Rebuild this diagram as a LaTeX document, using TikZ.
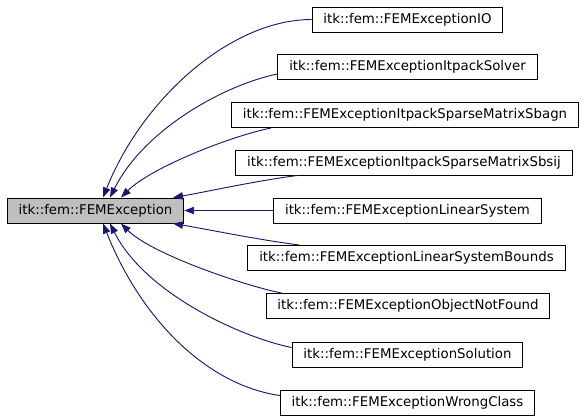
\documentclass[tikz,border=0pt]{standalone}
\usepackage{fontspec}
\setmainfont{DejaVu Sans}
\usetikzlibrary{arrows.meta,calc}
\definecolor{edgeblue}{RGB}{25,25,112}
\definecolor{basegray}{RGB}{191,191,191}

\begin{document}
\begin{tikzpicture}[x=0.75pt,y=-0.75pt,
  every node/.style={draw, rectangle, line width=0.75pt, inner xsep=8.5pt, inner ysep=0pt, minimum height=18.75pt, font=\fontsize{10}{12}\selectfont},
  inh/.style={draw=edgeblue, line width=0.7pt, -{Triangle[length=7.5pt,width=5.5pt]}}]
\useasboundingbox (0,0) rectangle (587,419);
\node[fill=basegray] (D0) at (95.5,210.5) {itk::fem::FEMException};
\node (D1) at (407.5,19.5) {itk::fem::FEMExceptionIO};
\node (D2) at (407.5,67) {itk::fem::FEMExceptionItpackSolver};
\node (D3) at (405,115) {itk::fem::FEMExceptionItpackSparseMatrixSbagn};
\node (D4) at (404,162.5) {itk::fem::FEMExceptionItpackSparseMatrixSbsij};
\node (D5) at (407.5,210.5) {itk::fem::FEMExceptionLinearSystem};
\node (D6) at (406.5,258) {itk::fem::FEMExceptionLinearSystemBounds};
\node (D7) at (408,306) {itk::fem::FEMExceptionObjectNotFound};
\node (D8) at (407.5,354.5) {itk::fem::FEMExceptionSolution};
\node (D9) at (407.5,402.5) {itk::fem::FEMExceptionWrongClass};
\draw[inh] (D1.west) .. controls +(-80,0) and +(40,-100) .. ($(D0.north)+(7.5,0)$);
\draw[inh] ($(D2.west)+(0,7)$) .. controls +(-50,10) and +(35,-70) .. ($(D0.north)+(14.5,0)$);
\draw[inh] ($(D3.south west)+(40,0)$) .. controls +(-40,8) and +(30,-30) .. ($(D0.north)+(25.5,0)$);
\draw[inh] ($(D4.south west)+(62,0)$) .. controls +(-40,5) and +(30,-5) .. ($(D0.north)+(77.5,0)$);
\draw[inh] (D5.west) -- (D0.east);
\draw[inh] ($(D6.north west)+(52,0)$) .. controls +(-40,-5) and +(30,5) .. ($(D0.south)+(77.5,0)$);
\draw[inh] ($(D7.north west)+(16,0)$) .. controls +(-40,-8) and +(30,30) .. ($(D0.south)+(25.5,0)$);
\draw[inh] ($(D8.west)+(0,-7)$) .. controls +(-50,-10) and +(35,70) .. ($(D0.south)+(14.5,0)$);
\draw[inh] ($(D9.west)+(0,-7)$) .. controls +(-70,-10) and +(40,100) .. ($(D0.south)+(7.5,0)$);
\end{tikzpicture}
\end{document}
